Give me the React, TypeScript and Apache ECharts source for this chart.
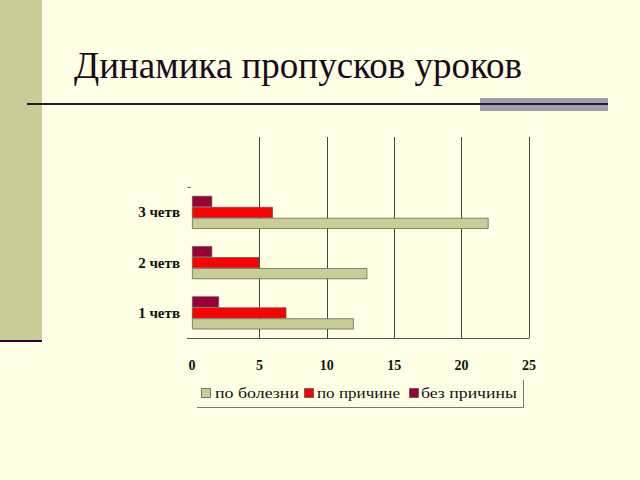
import React, { useEffect, useRef } from "react";
import * as echarts from "echarts";

const categories = ["1 четв", "2 четв", "3 четв", ""];
const seriesNames = ["по болезни", "по причине", "без причины"];
const illness = [12, 13, 22, null];
const withReason = [7, 5, 6, null];
const noReason = [2, 1.5, 1.5, null];
const xTicks = [0, 5, 10, 15, 20, 25];

const colors = ["#CCCC99", "#FF0000", "#990033"];

// legend layout (pixel positions of square and text span)
const legendSquareX = [201, 304, 409];
const legendTextX = [215, 317, 421];
const legendTextW = [84, 83, 96];

function measure(text: string, font: string): number {
  const c = document.createElement("canvas").getContext("2d");
  if (!c) return text.length * 7;
  c.font = font;
  return c.measureText(text).width;
}

export default function App() {
  const ref = useRef<HTMLDivElement>(null);
  useEffect(() => {
    const chart = echarts.init(ref.current!, null, { renderer: "svg" });
    const values = [illness, withReason, noReason];
    const order = [2, 1, 0];
    const legendFont = "15px 'Times New Roman', serif";
    const legendGraphics: any[] = [];
    seriesNames.forEach((name, i) => {
      legendGraphics.push({
        type: "rect",
        shape: { x: legendSquareX[i] + 0.5, y: 388.5, width: 9, height: 9 },
        style: { fill: colors[i], stroke: "#555555", lineWidth: 0.8 },
      });
      const w = measure(name, legendFont);
      legendGraphics.push({
        type: "text",
        x: legendTextX[i],
        y: 393,
        scaleX: legendTextW[i] / w,
        style: {
          text: name,
          font: legendFont,
          fill: "#111111",
          verticalAlign: "middle",
          align: "left",
        },
      });
    });
    chart.setOption({
      animation: false,
      backgroundColor: "#FFFFE6",
      textStyle: { fontFamily: "Liberation Serif" },
      title: {
        text: "Динамика пропусков уроков",
        left: 69,
        top: 42,
        textStyle: {
          fontFamily: "Liberation Serif",
          fontSize: 37,
          fontWeight: "normal",
          color: "#1A0A1A",
        },
      },
      graphic: [
        { type: "rect", shape: { x: 0, y: 0, width: 42, height: 340 }, style: { fill: "#CCCC99" } },
        { type: "line", shape: { x1: 0, y1: 341, x2: 42, y2: 341 }, style: { stroke: "#330033", lineWidth: 2 } },
        { type: "rect", shape: { x: 480, y: 98, width: 128, height: 13 }, style: { fill: "#A09EB0" } },
        { type: "line", shape: { x1: 27, y1: 104, x2: 608, y2: 104 }, style: { stroke: "#2A1A2A", lineWidth: 2 } },
        {
          type: "polyline",
          shape: { points: [[197, 407.5], [523.5, 407.5], [523.5, 380]] },
          style: { stroke: "#777777", lineWidth: 1, fill: null },
        },
        { type: "line", shape: { x1: 187, y1: 338.5, x2: 192, y2: 338.5 }, style: { stroke: "#555555", lineWidth: 1 } },
        { type: "line", shape: { x1: 187, y1: 187.5, x2: 191, y2: 187.5 }, style: { stroke: "#777777", lineWidth: 1 } },
        ...legendGraphics,
      ],
      grid: { left: 192, right: 111, top: 137, bottom: 142, containLabel: false },
      xAxis: {
        type: "value",
        min: 0,
        max: 25,
        interval: 5,
        axisLine: { show: true, lineStyle: { color: "#555555", width: 1 } },
        axisTick: { show: false },
        splitLine: { show: true, showMinLine: false, lineStyle: { color: "#444444", width: 1 } },
        axisLabel: {
          margin: 20,
          fontFamily: "Liberation Serif",
          fontSize: 14,
          fontWeight: "bold",
          color: "#111111",
          formatter: (v: number) => (xTicks.includes(v) ? String(v) : ""),
        },
      },
      yAxis: {
        type: "category",
        data: categories,
        axisLine: { show: false },
        axisTick: { show: false },
        axisLabel: {
          margin: 12,
          fontFamily: "Liberation Serif",
          fontSize: 15,
          fontWeight: "bold",
          color: "#111111",
        },
      },
      series: order.map((i) => ({
        name: seriesNames[i],
        type: "bar",
        data: values[i],
        barWidth: 11,
        barGap: "0%",
        itemStyle: { color: colors[i], borderColor: "#555555", borderWidth: 0.7 },
      })),
    });
    return () => chart.dispose();
  }, []);
  return <div ref={ref} style={{ width: 640, height: 480, position: "absolute", left: 0, top: 0 }} />;
}
